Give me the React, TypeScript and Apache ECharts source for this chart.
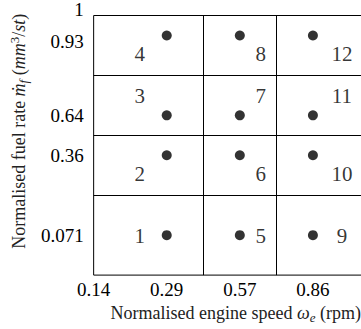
import React, { useEffect, useRef } from 'react';
import * as echarts from 'echarts';

// ---- data ----
const speedLabels = ['0.14', '0.29', '0.57', '0.86'];
const fuelLabels = ['0.071', '0.36', '0.64', '0.93', '1'];
// operating points: index into speedLabels / fuelLabels, and their id
const pointSpeedIdx = [1, 1, 1, 1, 2, 2, 2, 2, 3, 3, 3, 3];
const pointFuelIdx = [0, 1, 2, 3, 0, 1, 2, 3, 0, 1, 2, 3];
const pointIds = ['1', '2', '3', '4', '5', '6', '7', '8', '9', '10', '11', '12'];

// ---- layout (axis positions of the tick labels, drawing is not to scale) ----
const speedAxisPos = [0, 1, 2, 3];
const speedAxisMax = 4;
const fuelAxisPos = [2, 6, 8, 12, 13];
const fuelAxisMax = 13;

const FONT = '"Liberation Serif", "DejaVu Serif", serif';

function midpoints(arr: number[]) {
  const out: number[] = [];
  for (let i = 1; i < arr.length; i++) out.push((arr[i - 1] + arr[i]) / 2);
  return out;
}

export default function App() {
  const ref = useRef<HTMLDivElement>(null);
  useEffect(() => {
    if (!ref.current) return;
    const chart = echarts.init(ref.current, null, { renderer: 'svg' });

    const usedSpeed = Array.from(new Set(pointSpeedIdx)).sort((a, b) => a - b).map((i) => speedAxisPos[i]);
    const usedFuel = Array.from(new Set(pointFuelIdx)).sort((a, b) => a - b).map((i) => fuelAxisPos[i]);
    const xDiv = midpoints(usedSpeed);
    const yDiv = midpoints(usedFuel);

    const colDx = [0, -27, 21, 29];
    const rowDy = [1, 19, -19, 19];

    const data = pointIds.map((id, k) => {
      const si = pointSpeedIdx[k];
      const fi = pointFuelIdx[k];
      return {
        value: [speedAxisPos[si], fuelAxisPos[fi]],
        label: {
          show: true,
          formatter: id,
          position: 'inside',
          offset: [colDx[si], rowDy[fi]],
          color: '#000',
          fontFamily: FONT,
          fontSize: 21,
        },
      };
    });

    const TS = 18;
    const nameStyle = {
      color: '#222',
      fontFamily: FONT,
      fontSize: TS,
      rich: {
        n: { fontFamily: FONT, fontSize: TS, color: '#222' },
        it: { fontFamily: FONT, fontSize: TS, fontStyle: 'italic', color: '#222' },
        sub: { fontFamily: FONT, fontSize: 13, fontStyle: 'italic', color: '#222', padding: [9, 0, 0, 0] },
        sup: { fontFamily: FONT, fontSize: 13, color: '#222', padding: [0, 0, 9, 0] },
      },
    };

    chart.setOption({
      animation: false,
      grid: {
        show: true,
        left: 90,
        top: 14,
        width: 296,
        height: 264,
        borderColor: '#000',
        borderWidth: 1,
        backgroundColor: 'transparent',
        containLabel: false,
      },
      xAxis: {
        type: 'value',
        min: 0,
        max: speedAxisMax,
        interval: 1,
        axisLine: { show: false },
        axisTick: { show: false },
        splitLine: { show: false },
        axisLabel: {
          color: '#000',
          fontFamily: FONT,
          fontSize: 19,
          margin: 5,
          formatter: (v: number) => {
            const i = speedAxisPos.indexOf(v);
            return i >= 0 ? speedLabels[i] : '';
          },
        },
        name: '{n|Normalised engine speed }{it|ω}{sub|e}{n| (rpm)}',
        nameLocation: 'middle',
        nameGap: 20,
        nameTextStyle: { ...nameStyle, padding: [0, 8, 0, 0] },
      },
      yAxis: {
        type: 'value',
        min: 0,
        max: fuelAxisMax,
        interval: 1,
        axisLine: { show: false },
        axisTick: { show: false },
        splitLine: { show: false },
        axisLabel: {
          color: '#000',
          fontFamily: FONT,
          fontSize: 19,
          margin: 10,
          formatter: (v: number) => {
            const i = fuelAxisPos.indexOf(v);
            if (i < 0) return '';
            if (i === fuelAxisPos.length - 1) return '{up|' + fuelLabels[i] + '}';
            if (i === fuelAxisPos.length - 2) return '{dn|' + fuelLabels[i] + '}';
            return fuelLabels[i];
          },
          rich: {
            up: { fontFamily: FONT, fontSize: 19, color: '#000', padding: [0, 0, 12, 0] },
            dn: { fontFamily: FONT, fontSize: 19, color: '#000', padding: [12, 0, 0, 0] },
          },
        },
        name: '{n|Normalised fuel rate }{it|ṁ}{sub|f}{n| (}{it|mm}{sup|3}{n|/}{it|st}{n|)}',
        nameLocation: 'middle',
        nameRotate: 90,
        nameGap: 62,
        nameTextStyle: { ...nameStyle, padding: [0, 0, 0, 28] },
      },
      series: [
        {
          type: 'scatter',
          symbol: 'circle',
          symbolSize: 10,
          itemStyle: { color: '#000' },
          data,
          silent: true,
          markLine: {
            silent: true,
            symbol: ['none', 'none'],
            label: { show: false },
            lineStyle: { type: 'solid', color: '#000', width: 1 },
            emphasis: { disabled: true },
            data: [...xDiv.map((x) => ({ xAxis: x })), ...yDiv.map((y) => ({ yAxis: y }))],
          },
        },
      ],
    });
    return () => chart.dispose();
  }, []);

  return (
    <div style={{ position: 'absolute', left: 0, top: 0, width: 361, height: 329, overflow: 'hidden', background: '#fff' }}>
      <div ref={ref} style={{ position: 'absolute', left: 0, top: 0, width: 400, height: 329 }} />
    </div>
  );
}
